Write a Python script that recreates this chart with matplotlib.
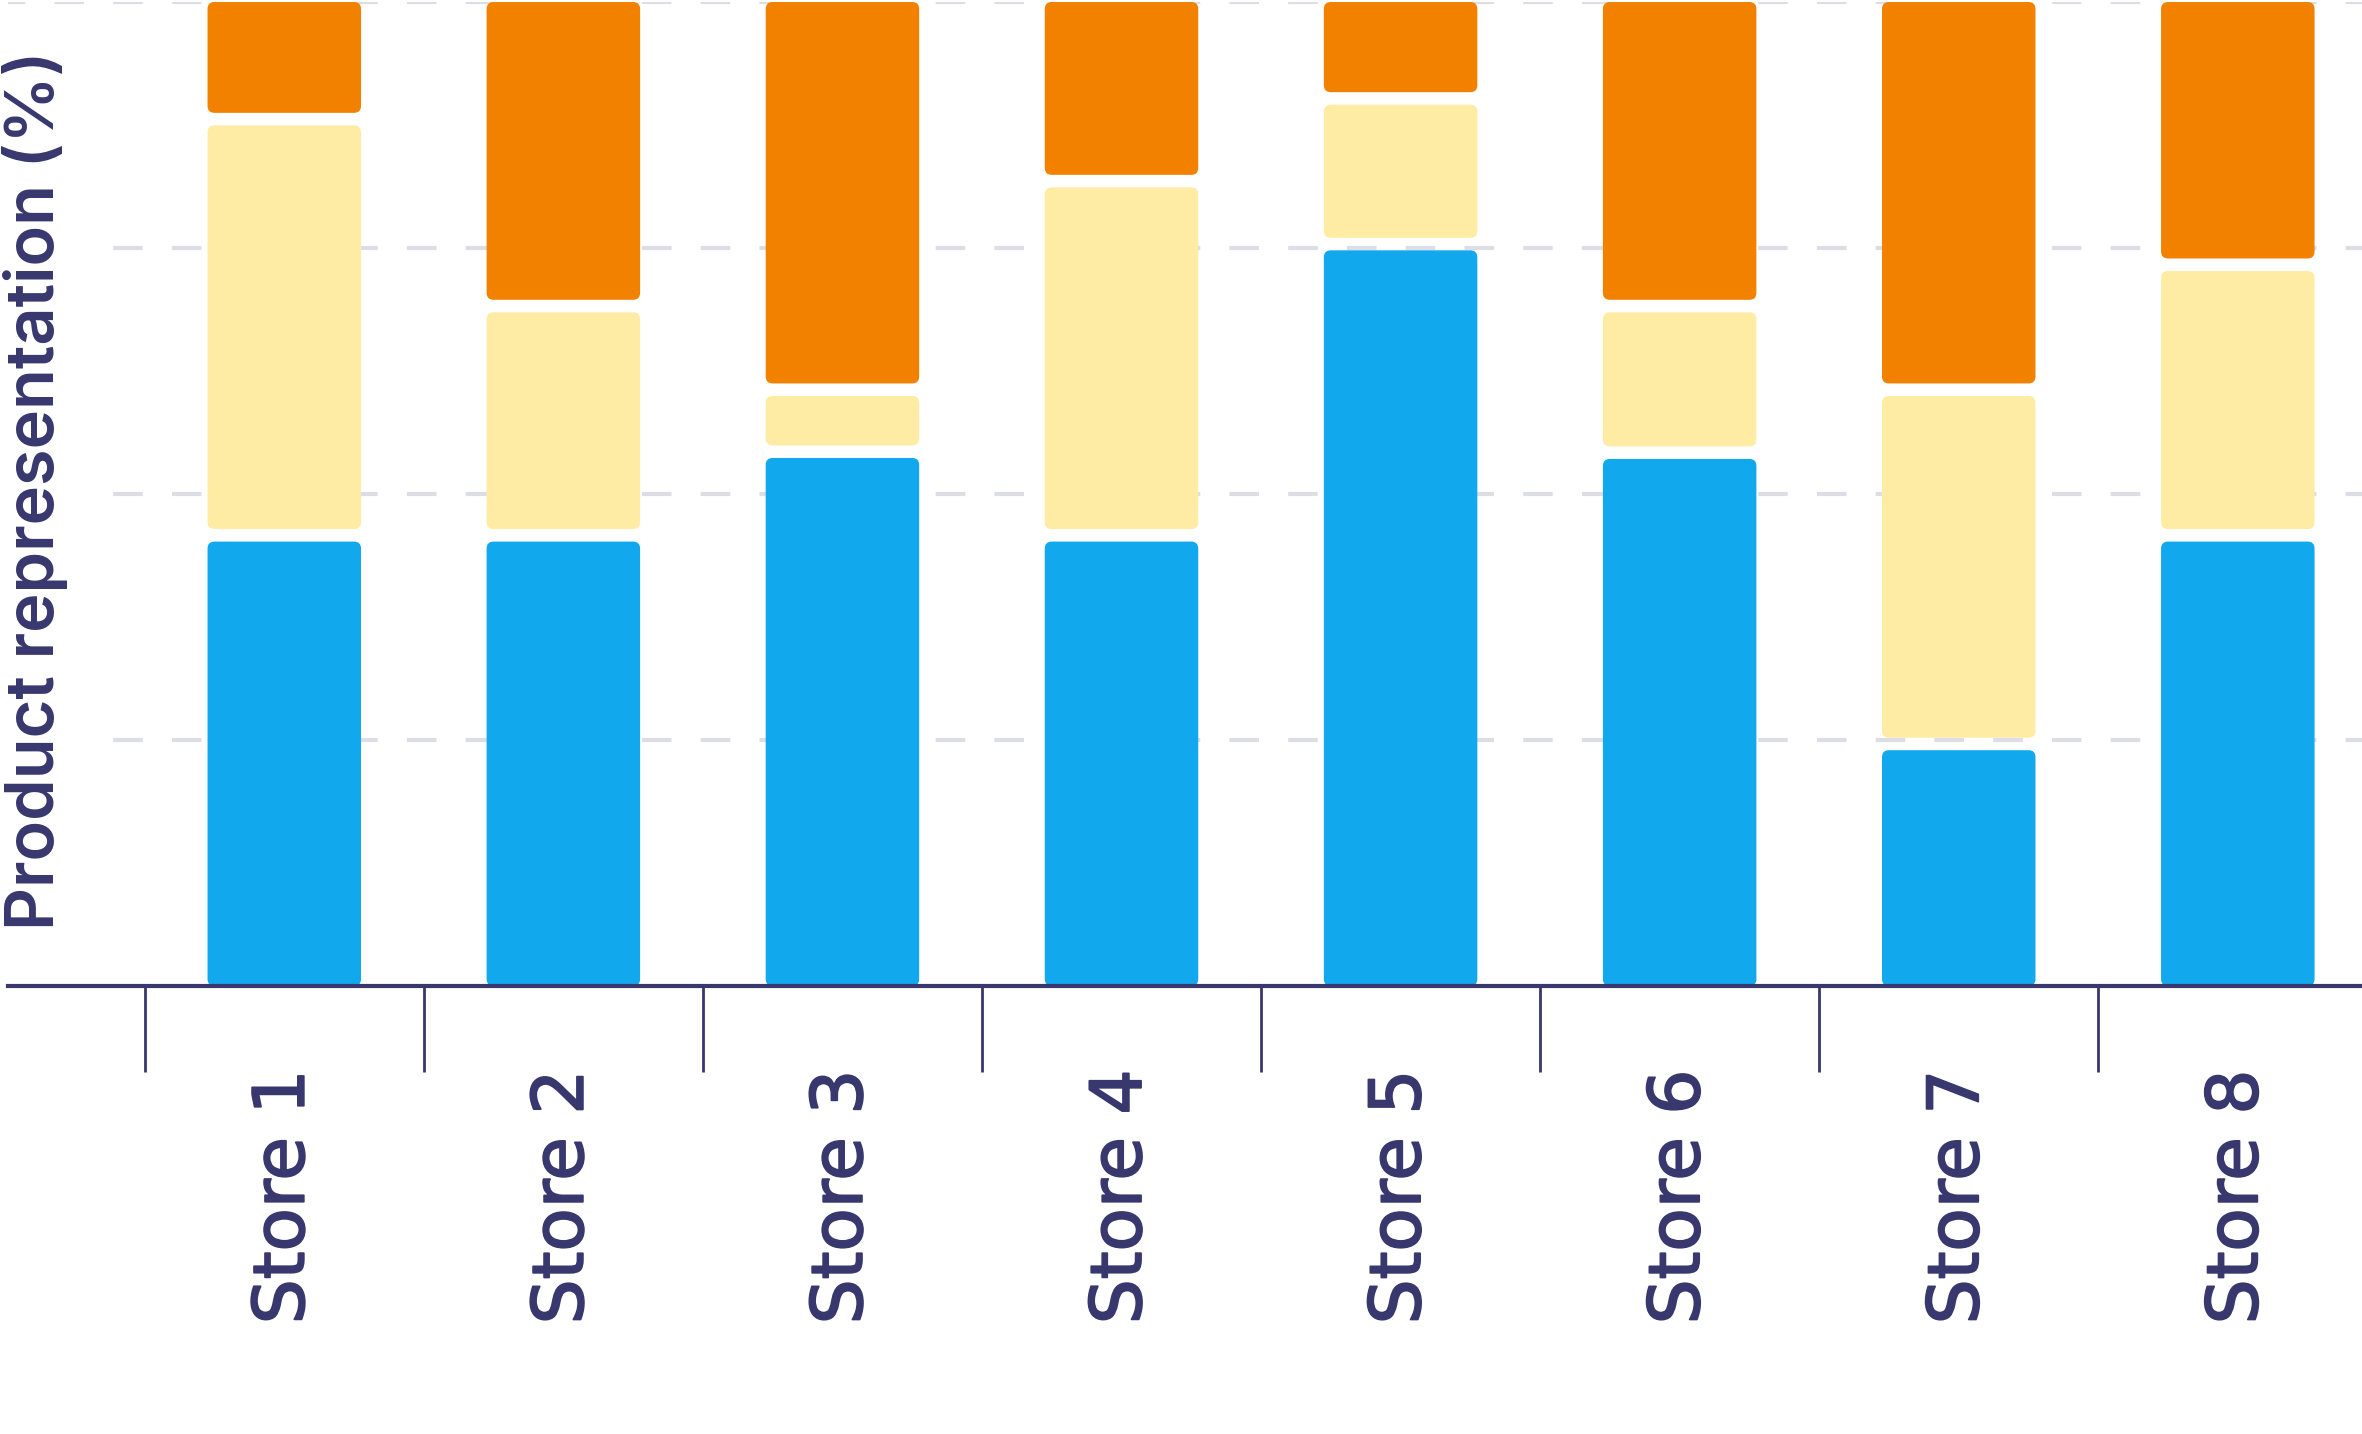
import numpy as np
import matplotlib
matplotlib.use('Agg')
import matplotlib.pyplot as plt
import matplotlib.patheffects as pe
from matplotlib.patches import FancyBboxPatch
from matplotlib.ticker import FixedLocator

# data (percent share per store)
stores = ['Store 1', 'Store 2', 'Store 3', 'Store 4', 'Store 5', 'Store 6', 'Store 7', 'Store 8']
blue_share = [45.8, 45.8, 54.3, 45.8, 75.4, 54.2, 24.6, 45.8]
yellow_share = [42.3, 23.3, 6.3, 36.0, 14.8, 14.9, 36.0, 27.5]
orange_share = [11.9, 30.9, 39.4, 18.2, 9.8, 30.9, 39.4, 26.7]

#colours
navy = '#38376e'
grid_col = '#dddde6'
seg_colors = ['#11a8ee', '#feeca4', '#f28100']

W, H, DPI = 2362, 1434, 100
fig = plt.figure(figsize=(W / DPI, H / DPI), dpi=DPI)
ax = fig.add_axes([8 / W, 1 - 986 / H, 1 - 8 / W, (986 - 2) / H])

x = np.arange(len(stores))
ax.set_xlim(-0.99, 7.445)
ax.set_ylim(0, 100)

# gridlines
ax.set_yticks([25, 50, 75, 100])
ax.yaxis.grid(True, color=grid_col, linewidth=3.0, linestyle=(0.37 * 8.0, (7.1, 7.0)), zorder=0)
ax.set_axisbelow(True)
ax.tick_params(axis='y', length=0, labelleft=False)

for side in ['left', 'right', 'top']:
    ax.spines[side].set_visible(False)
ax.spines['bottom'].set_color(navy)
ax.spines['bottom'].set_linewidth(3.0)
ax.spines['bottom'].set_zorder(5)

# stacked bars, then swap them for rounded boxes with a white gap between segments
bar_w = 0.55
series = [blue_share, yellow_share, orange_share]
bottom = np.zeros(len(stores))
containers = []
for vals, col in zip(series, seg_colors):
    bc = ax.bar(x, vals, bottom=bottom, width=bar_w, color=col)
    containers.append(bc)
    bottom = bottom + np.array(vals)

ax_w_px = ax.get_position().width * W
ax_h_px = ax.get_position().height * H
px_x = ax_w_px / (ax.get_xlim()[1] - ax.get_xlim()[0])
px_y = ax_h_px / (ax.get_ylim()[1] - ax.get_ylim()[0])
gap = 12.5 / px_y
r = 7 / px_x
aspect = px_x / px_y

n_series = len(containers)
for k, bc in enumerate(containers):
    for rect in bc.patches:
        x0, y0 = rect.get_x(), rect.get_y()
        w, h = rect.get_width(), rect.get_height()
        lo = y0 + (gap / 2 if k > 0 else 0)
        hi = y0 + h - (gap / 2 if k < n_series - 1 else 0)
        box = FancyBboxPatch((x0, lo), w, hi - lo,
                             boxstyle=f'round,pad=0,rounding_size={r}',
                             mutation_aspect=aspect,
                             facecolor=rect.get_facecolor(), edgecolor='none',
                             zorder=3)
        ax.add_patch(box)
        rect.set_visible(False)

# x ticks: labels at the bars, tick marks between them
ax.set_xticks(x)
ax.set_xticklabels(stores, rotation=90, fontsize=51, color=navy, family='DejaVu Sans')
for lbl in ax.get_xticklabels():
    lbl.set_path_effects([pe.withStroke(linewidth=1.3, foreground=navy)])
ax.tick_params(axis='x', which='major', length=0, pad=60)
ax.xaxis.set_minor_locator(FixedLocator(x - 0.5))
ax.tick_params(axis='x', which='minor', length=62, width=2.0, color=navy, direction='out')

fig.text(35 / W, 1 - 490 / H, 'Product representation (%)', rotation=90,
         ha='center', va='center', fontsize=48, color=navy, family='Inter', fontweight='semibold',
         bbox=dict(boxstyle='square,pad=0.45', facecolor='white', edgecolor='none'),
         zorder=10)

fig.savefig('out.png', dpi=DPI)
